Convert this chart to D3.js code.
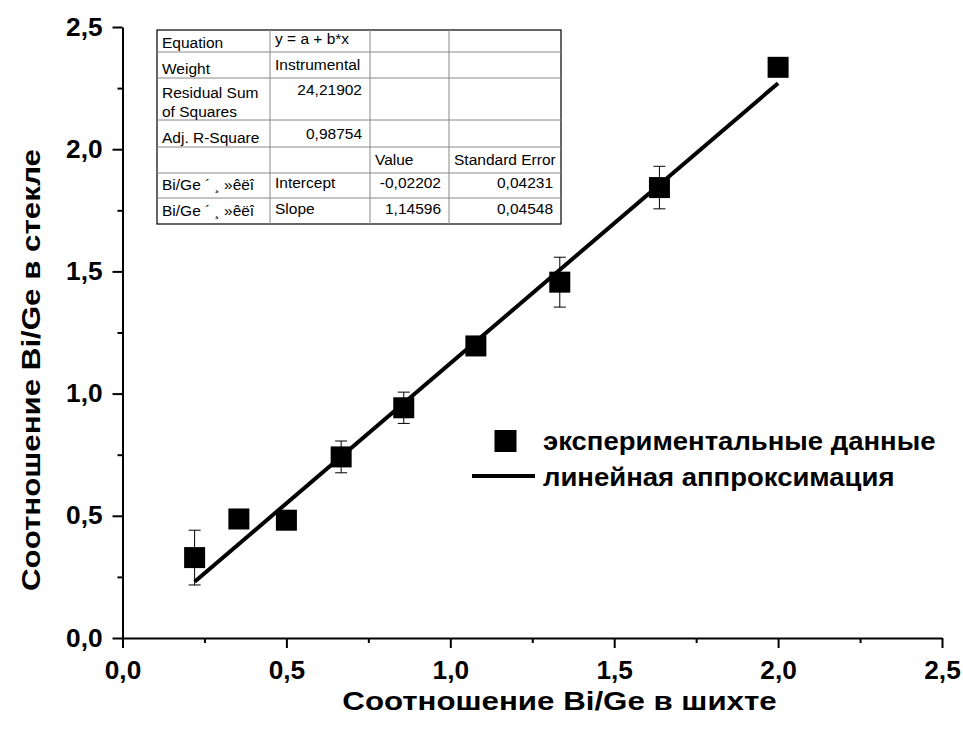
<!DOCTYPE html>
<html>
<head>
<meta charset="utf-8">
<script src="https://cdn.jsdelivr.net/npm/d3@7"></script>
<style>
  html, body { margin: 0; padding: 0; background: #fff; }
  svg { display: block; }
  text { font-family: "Liberation Sans", Arial, sans-serif; }
</style>
</head>
<body>
<svg id="chart" width="963" height="731"></svg>
<script>
// Bi/Ge ratio in the batch (x) vs in the glass (y), with error bars
const ratioBatch = [0.22, 0.355, 0.5, 0.667, 0.858, 1.078, 1.334, 1.638, 2.0];
const ratioGlass = [0.329, 0.487, 0.482, 0.741, 0.942, 1.195, 1.456, 1.843, 2.335];
const ratioGlassErr = [0.112, 0, 0, 0.065, 0.064, 0, 0.102, 0.087, 0];

// Linear fit y = a + b*x
const fitIntercept = -0.02202;
const fitSlope = 1.14596;

const majorTicks = [0, 0.5, 1.0, 1.5, 2.0, 2.5];
const minorTicks = [0.25, 0.75, 1.25, 1.75, 2.25];

const xTitle = "Соотношение Bi/Ge в шихте";
const yTitle = "Соотношение Bi/Ge в стекле";
const legendLabels = ["экспериментальные данные", "линейная аппроксимация"];

// Fit statistics table
const tableRows = [
  ["Equation", "y = a + b*x", "", ""],
  ["Weight", "Instrumental", "", ""],
  ["Residual Sum\nof Squares", "24,21902", "", ""],
  ["Adj. R-Square", "0,98754", "", ""],
  ["", "", "Value", "Standard Error"],
  ["Bi/Ge ´ ¸ »êëî", "Intercept", "-0,02202", "0,04231"],
  ["Bi/Ge ´ ¸ »êëî", "Slope", "1,14596", "0,04548"]
];

const svg = d3.select("#chart");
const margin = { left: 122.5, top: 27, right: 21, bottom: 93 };
const W = 963, H = 731;

const x = d3.scaleLinear().domain([0, 2.5]).range([margin.left, W - margin.right]);
const y = d3.scaleLinear().domain([0, 2.5]).range([H - margin.bottom, margin.top]);

const fmt = d => d3.format(".1f")(d).replace(".", ",");

// Axes: major ticks with labels, minor ticks without
svg.append("g").attr("transform", `translate(0,${y(0)})`)
  .call(d3.axisBottom(x).tickValues(majorTicks).tickFormat(fmt).tickSize(10).tickSizeOuter(0).tickPadding(13.5));
svg.append("g").attr("transform", `translate(0,${y(0)})`)
  .call(d3.axisBottom(x).tickValues(minorTicks).tickFormat("").tickSize(5).tickSizeOuter(0))
  .select(".domain").remove();

svg.append("g").attr("transform", `translate(${x(0)},0)`)
  .call(d3.axisLeft(y).tickValues(majorTicks).tickFormat(fmt).tickSize(10).tickSizeOuter(0).tickPadding(9));
svg.append("g").attr("transform", `translate(${x(0)},0)`)
  .call(d3.axisLeft(y).tickValues(minorTicks).tickFormat("").tickSize(5).tickSizeOuter(0))
  .select(".domain").remove();

svg.selectAll(".domain").attr("stroke", "#000").attr("stroke-width", 2);
svg.selectAll(".tick line").attr("stroke", "#000").attr("stroke-width", 2);
svg.selectAll(".tick text")
  .attr("font-family", "Liberation Sans, Arial, sans-serif")
  .attr("font-size", 25).attr("font-weight", "bold").attr("fill", "#000")
  .attr("transform", "scale(1.05,1)");

// Axis titles (glyphs drawn slightly wide)
svg.append("text")
  .attr("transform", `translate(559.5,710) scale(1.18,1)`)
  .attr("text-anchor", "middle").attr("font-size", 26.5).attr("font-weight", "bold")
  .text(xTitle);
svg.append("text")
  .attr("transform", `translate(40,370) rotate(-90) scale(1.18,1)`)
  .attr("text-anchor", "middle").attr("font-size", 26.5).attr("font-weight", "bold")
  .text(yTitle);

// Fit line across the data range
const xMin = d3.min(ratioBatch), xMax = d3.max(ratioBatch);
svg.append("line")
  .attr("x1", x(xMin)).attr("y1", y(fitIntercept + fitSlope * xMin))
  .attr("x2", x(xMax)).attr("y2", y(fitIntercept + fitSlope * xMax))
  .attr("stroke", "#000").attr("stroke-width", 4);

// Error bars
const pts = ratioBatch.map((v, i) => ({ x: v, y: ratioGlass[i], e: ratioGlassErr[i] }));
const eb = svg.append("g").selectAll("g").data(pts.filter(d => d.e > 0)).join("g");
eb.append("line")
  .attr("x1", d => x(d.x)).attr("x2", d => x(d.x))
  .attr("y1", d => y(d.y - d.e)).attr("y2", d => y(d.y + d.e))
  .attr("stroke", "#000").attr("stroke-width", 1);
[-1, 1].forEach(s => {
  eb.append("line")
    .attr("x1", d => x(d.x) - 6).attr("x2", d => x(d.x) + 6)
    .attr("y1", d => y(d.y + s * d.e)).attr("y2", d => y(d.y + s * d.e))
    .attr("stroke", "#000").attr("stroke-width", 1);
});

// Square markers
const sq = 21;
svg.append("g").selectAll("rect").data(pts).join("rect")
  .attr("x", d => x(d.x) - sq / 2).attr("y", d => y(d.y) - sq / 2)
  .attr("width", sq).attr("height", sq).attr("fill", "#000");

// Legend
const lg = svg.append("g");
lg.append("rect").attr("x", 494.5).attr("y", 430).attr("width", 22).attr("height", 22).attr("fill", "#000");
lg.append("line").attr("x1", 472).attr("x2", 535).attr("y1", 476).attr("y2", 476)
  .attr("stroke", "#000").attr("stroke-width", 4);
lg.selectAll("text").data(legendLabels).join("text")
  .attr("transform", (d, i) => `translate(543,${450 + i * 36}) scale(1.1,1)`)
  .attr("font-size", 25).attr("font-weight", "bold")
  .text(d => d);

// Statistics table
const colX = [157, 270, 370, 449, 561];
const rowY = [30, 52, 78, 120, 147, 173, 198, 224];
const tbl = svg.append("g");
tbl.append("rect").attr("x", colX[0]).attr("y", rowY[0])
  .attr("width", colX[4] - colX[0]).attr("height", rowY[7] - rowY[0])
  .attr("fill", "#fff").attr("stroke", "#000").attr("stroke-width", 1.2);
colX.slice(1, 4).forEach(cx => tbl.append("line")
  .attr("x1", cx).attr("x2", cx).attr("y1", rowY[0]).attr("y2", rowY[7])
  .attr("stroke", "#888").attr("stroke-width", 1));
rowY.slice(1, 7).forEach(ry => tbl.append("line")
  .attr("x1", colX[0]).attr("x2", colX[4]).attr("y1", ry).attr("y2", ry)
  .attr("stroke", "#888").attr("stroke-width", 1));

// Baseline of a cell's first line: the label column sits a little lower than the value columns
function cellBaseline(r, c) {
  const top = rowY[r], bottom = rowY[r + 1];
  if (r === 2) return c === 0 ? top + 20 : top + 17;
  if (r >= 5) return c === 0 ? bottom - 8 : bottom - 10.5;
  return c === 0 ? bottom - 4 : bottom - 8.5;
}

const rightAligned = v => /^-?\d/.test(v);
tableRows.forEach((row, r) => {
  row.forEach((cell, c) => {
    if (!cell) return;
    const lines = cell.split("\n");
    const right = rightAligned(cell);
    const tx = right ? colX[c + 1] - 8 : colX[c] + 5;
    lines.forEach((ln, k) => {
      tbl.append("text")
        .attr("x", tx).attr("y", cellBaseline(r, c) + k * 18.5)
        .attr("text-anchor", right ? "end" : "start")
        .attr("font-size", 15.5).attr("fill", "#000")
        .text(ln);
    });
  });
});
</script>
</body>
</html>
